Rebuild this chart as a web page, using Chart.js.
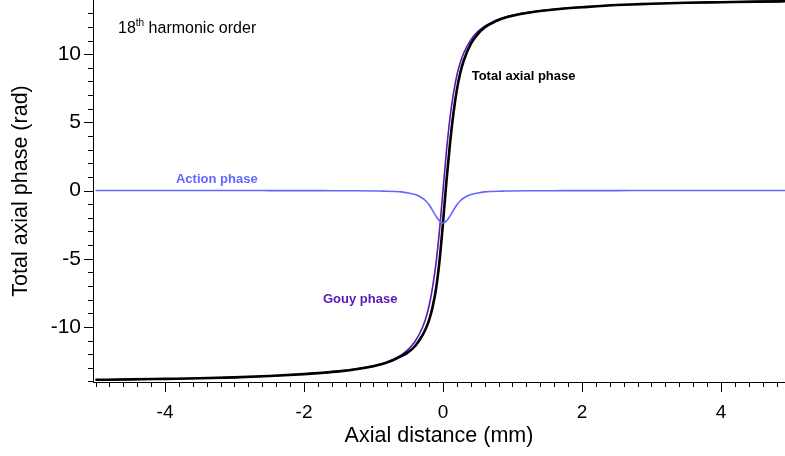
<!DOCTYPE html>
<html>
<head>
<meta charset="utf-8">
<script src="https://cdn.jsdelivr.net/npm/chart.js@4.4.1/dist/chart.umd.min.js"></script>
<style>
html,body{margin:0;padding:0;background:#fff;}
#wrap{position:relative;width:785px;height:456px;}
</style>
</head>
<body>
<div id="wrap"><canvas id="c" width="785" height="456"></canvas></div>
<script>
// axial distance (mm)
var axial_mm=[-5,-4.5,-4,-3.5,-3,-2.5,-2,-1.75,-1.5,-1.25,-1,-0.9,-0.8,-0.7,-0.6,-0.5,-0.4,-0.3,-0.25,-0.2,-0.15,-0.1,-0.05,
  0,0.05,0.1,0.15,0.2,0.25,0.3,0.4,0.5,0.6,0.7,0.8,0.9,1,1.25,1.5,1.75,2,2.5,3,3.5,4,4.5,5];
var gouy_phase=[-13.88,-13.85,-13.81,-13.77,-13.7,-13.6,-13.45,-13.36,-13.24,-13.08,-12.85,-12.72,-12.55,-12.33,-12.05,-11.65,-11.05,-10.1,-9.4,-8.45,-7.1,-5.3,-2.9,
  0,2.9,5.3,7.1,8.45,9.4,10.1,11.05,11.65,12.05,12.33,12.55,12.72,12.85,13.08,13.24,13.36,13.45,13.6,13.7,13.77,13.81,13.85,13.88];
var action_phase=[0,0,0,0,0,-0.005,-0.01,-0.01,-0.015,-0.02,-0.03,-0.04,-0.05,-0.07,-0.1,-0.18,-0.3,-0.55,-0.75,-1.05,-1.45,-1.88,-2.23,
  -2.38,-2.23,-1.88,-1.45,-1.05,-0.75,-0.55,-0.3,-0.18,-0.1,-0.07,-0.05,-0.04,-0.03,-0.02,-0.015,-0.01,-0.01,-0.005,0,0,0,0,0];
var total_phase=[-13.88,-13.85,-13.81,-13.77,-13.7,-13.6,-13.46,-13.37,-13.26,-13.1,-12.88,-12.76,-12.6,-12.4,-12.15,-11.85,-11.4,-10.65,-10.15,-9.5,-8.55,-7.2,-5.15,
  -2.38,0.7,3.4,5.65,7.4,8.65,9.55,10.75,11.47,11.95,12.26,12.5,12.68,12.82,13.06,13.22,13.35,13.44,13.6,13.7,13.77,13.81,13.85,13.88];
var x_tick_labels=[-4,-2,0,2,4];
var y_tick_labels=[-10,-5,0,5,10];

var PURPLE='#5b17b5', BLUE='#6666ff';

function pts(ys){ return axial_mm.map(function(x,i){ return {x:x,y:ys[i]}; }); }

// minor / major tick marks and the in-plot labels
var decor={
  id:'decor',
  afterDraw:function(chart){
    var ctx=chart.ctx, xs=chart.scales.x, ys=chart.scales.y;
    var ax=chart.chartArea.left, ay=chart.chartArea.bottom;
    ctx.save();
    ctx.strokeStyle='#000'; ctx.lineWidth=1;
    ctx.beginPath();
    for(var i=-25;i<=24;i++){
      var px=Math.round(xs.getPixelForValue(i/5))+0.5;
      var len=(i%10===0)?10:5;
      ctx.moveTo(px,ay); ctx.lineTo(px,ay+len);
    }
    for(var j=-14;j<=13;j++){
      var py=Math.round(ys.getPixelForValue(j))+0.5;
      var l=(j%5===0)?9:5;
      ctx.moveTo(ax,py); ctx.lineTo(ax-l,py);
    }
    ctx.stroke();

    ctx.textBaseline='alphabetic'; ctx.textAlign='left';
    var x0=xs.getPixelForValue(-4.676), y0=ys.getPixelForValue(11.52);
    ctx.fillStyle='#000';
    ctx.font='16px "Liberation Sans", Arial, sans-serif';
    ctx.fillText('18',x0,y0);
    var w=ctx.measureText('18').width;
    ctx.font='10px "Liberation Sans", Arial, sans-serif';
    ctx.fillText('th',x0+w,y0-7);
    var w2=ctx.measureText('th').width;
    ctx.font='16px "Liberation Sans", Arial, sans-serif';
    ctx.fillText(' harmonic order',x0+w+w2,y0);

    ctx.font='bold 13px "Liberation Sans", Arial, sans-serif';
    ctx.fillStyle='#000';
    ctx.fillText('Total axial phase',xs.getPixelForValue(0.413),ys.getPixelForValue(8.1));
    ctx.fillStyle=BLUE;
    ctx.fillText('Action phase',xs.getPixelForValue(-3.842),ys.getPixelForValue(0.53));
    ctx.fillStyle=PURPLE;
    ctx.fillText('Gouy phase',xs.getPixelForValue(-1.727),ys.getPixelForValue(-8.25));
    ctx.restore();
  }
};

new Chart(document.getElementById('c'),{
  type:'line',
  data:{datasets:[
    {label:'Action phase',data:pts(action_phase),borderColor:BLUE,borderWidth:1.6,pointRadius:0,cubicInterpolationMode:'monotone',order:1},
    {label:'Total axial phase',data:pts(total_phase),borderColor:'#000',borderWidth:2.6,pointRadius:0,cubicInterpolationMode:'monotone',order:2},
    {label:'Gouy phase',data:pts(gouy_phase),borderColor:PURPLE,borderWidth:1.6,pointRadius:0,cubicInterpolationMode:'monotone',order:3}
  ]},
  options:{
    responsive:false, animation:false,
    layout:{padding:{top:0,right:0,left:0,bottom:0}},
    plugins:{legend:{display:false},tooltip:{enabled:false}},
    scales:{
      x:{type:'linear',min:-5.036,max:4.921,
        grid:{display:false,drawTicks:false},
        border:{display:true,color:'#000',width:1},
        afterBuildTicks:function(s){ s.ticks=x_tick_labels.map(function(v){return {value:v};}); },
        afterFit:function(s){ s.height=74; s.paddingLeft=0; s.paddingRight=0; },
        ticks:{color:'#000',padding:19,maxRotation:0,font:{family:'"Liberation Sans", Arial, sans-serif',size:19}},
        title:{display:true,text:'Axial distance (mm)',color:'#000',padding:{top:0,bottom:7},font:{family:'"Liberation Sans", Arial, sans-serif',size:21.5}}
      },
      y:{type:'linear',min:-14.04,max:13.97,
        grid:{display:false,drawTicks:false},
        border:{display:true,color:'#000',width:1},
        afterBuildTicks:function(s){ s.ticks=y_tick_labels.map(function(v){return {value:v};}); },
        afterFit:function(s){ s.width=93; s.paddingTop=0; s.paddingBottom=0; },
        ticks:{color:'#000',padding:12,font:{family:'"Liberation Sans", Arial, sans-serif',size:21}},
        title:{display:true,text:'Total axial phase (rad)',color:'#000',padding:{top:8,bottom:0},font:{family:'"Liberation Sans", Arial, sans-serif',size:21.5}}
      }
    }
  },
  plugins:[decor]
});
</script>
</body>
</html>
